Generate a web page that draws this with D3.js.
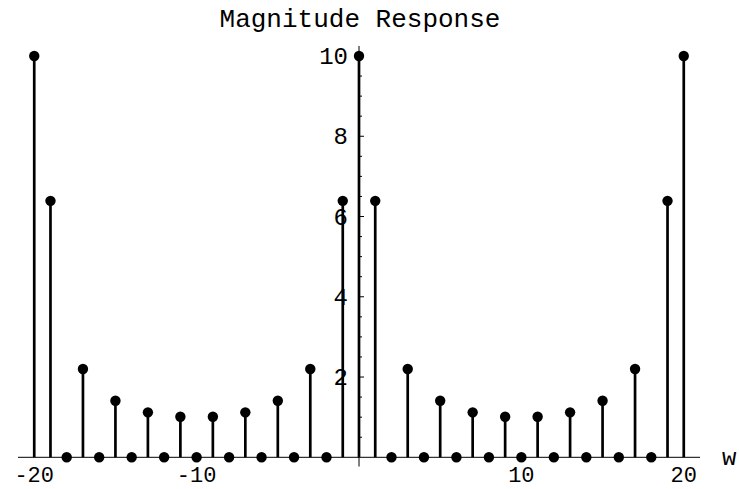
<!DOCTYPE html>
<html>
<head>
<meta charset="utf-8">
<script src="https://cdn.jsdelivr.net/npm/d3@7"></script>
<style>
  html, body { margin: 0; padding: 0; background: #fff; }
  svg { display: block; }
  text { font-family: "Liberation Mono", "Courier New", monospace; fill: #000; }
</style>
</head>
<body>
<svg id="chart" width="739" height="489"></svg>
<script>
// Sample frequencies and magnitude values of the response
const freqs = d3.range(-20, 21);
const magnitudes = [
  10, 6.39, 0, 2.20, 0, 1.41, 0, 1.12, 0, 1.01, 0,
  1.01, 0, 1.12, 0, 1.41, 0, 2.20, 0, 6.39,
  10,
  6.39, 0, 2.20, 0, 1.41, 0, 1.12, 0, 1.01, 0,
  1.01, 0, 1.12, 0, 1.41, 0, 2.20, 0, 6.39, 10
];
const xTickValues = [-20, -10, 10, 20];
const yTickValues = [2, 4, 6, 8, 10];
const yMinorTickValues = d3.range(0.5, 10.01, 0.5).filter(v => v % 2 !== 0);
const titleText = "Magnitude Response";
const xAxisLabel = "w";

const svg = d3.select("#chart");

const x = d3.scaleLinear().domain([-21, 21]).range([18, 700]);
const y = d3.scaleLinear().domain([0, 10]).range([457.3, 56]);

// Horizontal axis through y = 0
svg.append("line")
  .attr("x1", x(-21)).attr("x2", x(21))
  .attr("y1", y(0)).attr("y2", y(0))
  .attr("stroke", "#000").attr("stroke-width", 1);

// Vertical axis through w = 0
svg.append("line")
  .attr("x1", x(0)).attr("x2", x(0))
  .attr("y1", y(-0.23)).attr("y2", y(10.25))
  .attr("stroke", "#000").attr("stroke-width", 1);

// Y ticks (drawn to the right of the axis)
svg.selectAll("line.ymajor").data(yTickValues).join("line")
  .attr("class", "ymajor")
  .attr("x1", x(0)).attr("x2", x(0) + 5)
  .attr("y1", d => y(d)).attr("y2", d => y(d))
  .attr("stroke", "#000").attr("stroke-width", 1);

svg.selectAll("line.yminor").data(yMinorTickValues).join("line")
  .attr("class", "yminor")
  .attr("x1", x(0)).attr("x2", x(0) + 3)
  .attr("y1", d => y(d)).attr("y2", d => y(d))
  .attr("stroke", "#000").attr("stroke-width", 1);

// Y tick labels
svg.selectAll("text.ylab").data(yTickValues).join("text")
  .attr("class", "ylab")
  .attr("x", x(0) - 11)
  .attr("y", d => y(d) + 8)
  .attr("text-anchor", "end")
  .attr("font-size", 24)
  .text(d => d);

// X tick labels
svg.selectAll("text.xlab").data(xTickValues).join("text")
  .attr("class", "xlab")
  .attr("x", d => x(d))
  .attr("y", 482)
  .attr("text-anchor", "middle")
  .attr("font-size", 22)
  .text(d => d < 0 ? "-" + Math.abs(d) : d);

// Axis label and title
svg.append("text")
  .attr("x", 722).attr("y", 465)
  .attr("font-size", 24)
  .text(xAxisLabel);

svg.append("text")
  .attr("x", 360).attr("y", 27)
  .attr("text-anchor", "middle")
  .attr("font-size", 26)
  .text(titleText);

// Stems and markers
const data = freqs.map((f, i) => ({ f, m: magnitudes[i] }));

svg.selectAll("line.stem").data(data.filter(d => d.m > 0)).join("line")
  .attr("class", "stem")
  .attr("x1", d => x(d.f)).attr("x2", d => x(d.f))
  .attr("y1", y(0)).attr("y2", d => y(d.m))
  .attr("stroke", "#000").attr("stroke-width", 2.7);

svg.selectAll("circle.dot").data(data).join("circle")
  .attr("class", "dot")
  .attr("cx", d => x(d.f))
  .attr("cy", d => y(d.m))
  .attr("r", 5.2)
  .attr("fill", "#000");
</script>
</body>
</html>
